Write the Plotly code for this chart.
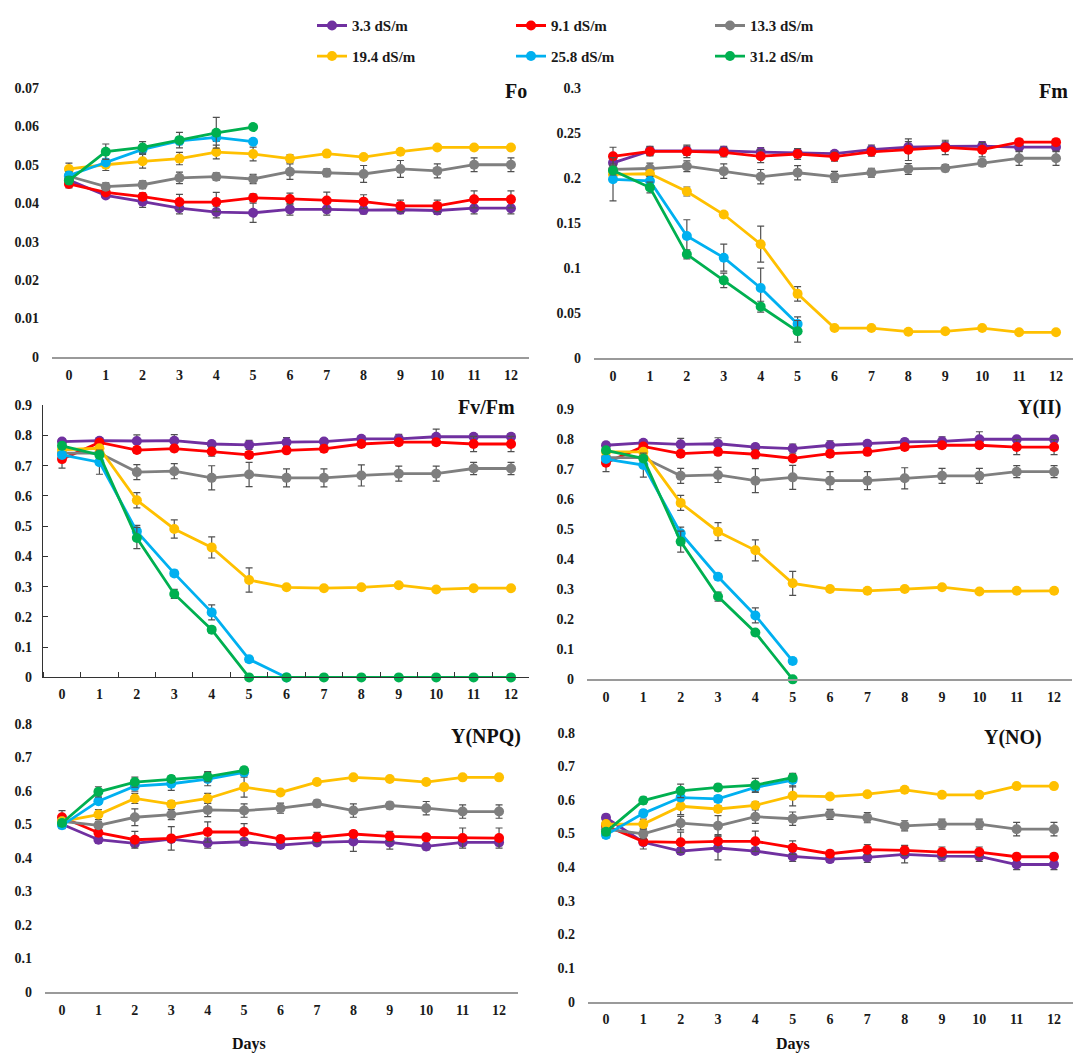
import plotly.graph_objects as go

# ---------------- data ----------------
days = list(range(13))
series_names = ["3.3 dS/m", "9.1 dS/m", "13.3 dS/m", "19.4 dS/m", "25.8 dS/m", "31.2 dS/m"]
series_colors = ["#7030A0", "#FF0000", "#7F7F7F", "#FFC000", "#00B0F0", "#00B050"]

# Fo
fo_33 = [0.0460, 0.0420, 0.0404, 0.0387, 0.0377, 0.0375, 0.0384, 0.0384, 0.0382, 0.0383, 0.0381, 0.0387, 0.0387]
fo_91 = [0.0450, 0.0428, 0.0417, 0.0403, 0.0403, 0.0414, 0.0411, 0.0407, 0.0404, 0.0393, 0.0393, 0.0410, 0.0410]
fo_133 = [0.0470, 0.0443, 0.0448, 0.0466, 0.0469, 0.0463, 0.0482, 0.0479, 0.0476, 0.0489, 0.0484, 0.0500, 0.0500]
fo_194 = [0.0489, 0.0500, 0.0509, 0.0516, 0.0533, 0.0528, 0.0516, 0.0529, 0.0520, 0.0534, 0.0545, 0.0545, 0.0545]
fo_258 = [0.0472, 0.0506, 0.0540, 0.0562, 0.0571, 0.0560]
fo_312 = [0.0459, 0.0534, 0.0545, 0.0564, 0.0583, 0.0598]
fo_33_sd = [0.0010, 0.0005, 0.0015, 0.0015, 0.0015, 0.0025, 0.0015, 0.0015, 0.0010, 0.0010, 0.0010, 0.0015, 0.0015]
fo_91_sd = [0.0010, 0.0005, 0.0010, 0.0020, 0.0025, 0.0010, 0.0015, 0.0022, 0.0018, 0.0015, 0.0015, 0.0022, 0.0022]
fo_133_sd = [0.0010, 0.0010, 0.0010, 0.0015, 0.0010, 0.0012, 0.0020, 0.0010, 0.0022, 0.0022, 0.0018, 0.0018, 0.0018]
fo_194_sd = [0.0015, 0.0015, 0.0018, 0.0016, 0.0018, 0.0018, 0.0010, 0.0005, 0.0005, 0.0005, 0.0005, 0.0005, 0.0005]
fo_258_sd = [0.0010, 0.0005, 0.0010, 0.0010, 0.0010, 0.0005]
fo_312_sd = [0.0010, 0.0020, 0.0015, 0.0020, 0.0040, 0.0005]

# Fm
fm_33 = [0.2167, 0.2300, 0.2300, 0.2300, 0.2287, 0.2276, 0.2269, 0.2313, 0.2342, 0.2349, 0.2353, 0.2342, 0.2342]
fm_91 = [0.2240, 0.2294, 0.2294, 0.2284, 0.2240, 0.2265, 0.2236, 0.2290, 0.2313, 0.2338, 0.2313, 0.2397, 0.2397]
fm_133 = [0.2094, 0.2104, 0.2130, 0.2075, 0.2013, 0.2057, 0.2013, 0.2057, 0.2100, 0.2108, 0.2167, 0.2218, 0.2218]
fm_194 = [0.2039, 0.2046, 0.1849, 0.1593, 0.1264, 0.0712, 0.0332, 0.0332, 0.0292, 0.0296, 0.0332, 0.0285, 0.0285]
fm_258 = [0.1984, 0.1966, 0.1355, 0.1114, 0.0778, 0.0376]
fm_312 = [0.2083, 0.1893, 0.1151, 0.0862, 0.0570, 0.0296]
fm_33_sd = [0.010, 0.005, 0.005, 0.005, 0.005, 0.005, 0.003, 0.005, 0.006, 0.005, 0.005, 0.005, 0.005]
fm_91_sd = [0.010, 0.005, 0.007, 0.005, 0.007, 0.006, 0.005, 0.005, 0.012, 0.008, 0.008, 0.003, 0.003]
fm_133_sd = [0.006, 0.006, 0.006, 0.008, 0.008, 0.008, 0.006, 0.005, 0.006, 0.004, 0.004, 0.008, 0.008]
fm_194_sd = [0.003, 0.003, 0.005, 0.003, 0.020, 0.008, 0.002, 0.002, 0.002, 0.002, 0.002, 0.002, 0.002]
fm_258_sd = [0.024, 0.005, 0.018, 0.015, 0.022, 0.008]
fm_312_sd = [0.005, 0.006, 0.005, 0.008, 0.006, 0.012]

# Fv/Fm
fvfm_33 = [0.780, 0.783, 0.782, 0.783, 0.772, 0.769, 0.778, 0.780, 0.789, 0.789, 0.796, 0.796, 0.796]
fvfm_91 = [0.722, 0.777, 0.752, 0.757, 0.747, 0.736, 0.751, 0.756, 0.772, 0.778, 0.778, 0.772, 0.772]
fvfm_133 = [0.742, 0.742, 0.679, 0.682, 0.660, 0.671, 0.660, 0.660, 0.668, 0.674, 0.674, 0.691, 0.691]
fvfm_194 = [0.753, 0.758, 0.586, 0.491, 0.430, 0.322, 0.298, 0.295, 0.298, 0.305, 0.291, 0.295, 0.295]
fvfm_258 = [0.736, 0.712, 0.483, 0.344, 0.215, 0.060, 0.000]
fvfm_312 = [0.766, 0.736, 0.461, 0.276, 0.158, 0.000, 0.000, 0.000, 0.000, 0.000, 0.000, 0.000, 0.000]
fvfm_33_sd = [0.010, 0.010, 0.020, 0.020, 0.010, 0.015, 0.015, 0.010, 0.010, 0.015, 0.025, 0.010, 0.010]
fvfm_91_sd = [0.030, 0.010, 0.010, 0.010, 0.015, 0.010, 0.010, 0.010, 0.010, 0.010, 0.010, 0.025, 0.025]
fvfm_133_sd = [0.010, 0.010, 0.025, 0.025, 0.040, 0.040, 0.030, 0.030, 0.035, 0.025, 0.025, 0.020, 0.020]
fvfm_194_sd = [0.010, 0.010, 0.025, 0.030, 0.035, 0.040, 0.005, 0.005, 0.005, 0.005, 0.005, 0.005, 0.005]
fvfm_258_sd = [0.010, 0.040, 0.020, 0.010, 0.025, 0.010, 0.000]
fvfm_312_sd = [0.010, 0.010, 0.035, 0.015, 0.010, 0.000, 0.000, 0.000, 0.000, 0.000, 0.000, 0.000, 0.000]

# Y(II)
y2_33 = [0.780, 0.788, 0.783, 0.785, 0.774, 0.769, 0.780, 0.785, 0.791, 0.793, 0.800, 0.800, 0.800]
y2_91 = [0.722, 0.776, 0.752, 0.758, 0.750, 0.736, 0.752, 0.758, 0.774, 0.780, 0.780, 0.774, 0.774]
y2_133 = [0.739, 0.739, 0.678, 0.681, 0.662, 0.673, 0.662, 0.662, 0.670, 0.678, 0.678, 0.692, 0.692]
y2_194 = [0.758, 0.758, 0.588, 0.492, 0.430, 0.320, 0.301, 0.295, 0.301, 0.307, 0.293, 0.295, 0.295]
y2_258 = [0.734, 0.714, 0.487, 0.342, 0.213, 0.061]
y2_312 = [0.763, 0.736, 0.459, 0.276, 0.156, 0.000]
y2_33_sd = [0.010, 0.010, 0.020, 0.020, 0.010, 0.015, 0.015, 0.010, 0.010, 0.015, 0.025, 0.010, 0.010]
y2_91_sd = [0.030, 0.010, 0.010, 0.010, 0.015, 0.010, 0.010, 0.010, 0.010, 0.010, 0.010, 0.025, 0.025]
y2_133_sd = [0.010, 0.010, 0.025, 0.025, 0.040, 0.040, 0.030, 0.030, 0.035, 0.025, 0.025, 0.020, 0.020]
y2_194_sd = [0.010, 0.010, 0.025, 0.030, 0.035, 0.040, 0.005, 0.005, 0.005, 0.005, 0.005, 0.005, 0.005]
y2_258_sd = [0.010, 0.040, 0.020, 0.010, 0.025, 0.010]
y2_312_sd = [0.010, 0.010, 0.035, 0.015, 0.010, 0.000]

# Y(NPQ)
npq_33 = [0.500, 0.454, 0.443, 0.456, 0.444, 0.448, 0.438, 0.446, 0.449, 0.446, 0.434, 0.446, 0.446]
npq_91 = [0.521, 0.475, 0.454, 0.458, 0.477, 0.477, 0.456, 0.461, 0.471, 0.464, 0.461, 0.459, 0.459]
npq_133 = [0.509, 0.497, 0.521, 0.529, 0.543, 0.541, 0.548, 0.562, 0.541, 0.556, 0.548, 0.538, 0.538]
npq_194 = [0.509, 0.529, 0.577, 0.560, 0.577, 0.611, 0.595, 0.626, 0.640, 0.635, 0.626, 0.640, 0.640]
npq_258 = [0.497, 0.569, 0.614, 0.621, 0.635, 0.655]
npq_312 = [0.504, 0.597, 0.626, 0.635, 0.642, 0.661]
npq_33_sd = [0.010, 0.010, 0.010, 0.010, 0.015, 0.010, 0.010, 0.010, 0.030, 0.020, 0.010, 0.010, 0.010]
npq_91_sd = [0.020, 0.010, 0.025, 0.035, 0.030, 0.025, 0.010, 0.015, 0.010, 0.015, 0.010, 0.030, 0.030]
npq_133_sd = [0.010, 0.010, 0.025, 0.015, 0.020, 0.020, 0.015, 0.010, 0.020, 0.010, 0.020, 0.020, 0.020]
npq_194_sd = [0.010, 0.015, 0.015, 0.010, 0.015, 0.030, 0.005, 0.005, 0.005, 0.005, 0.005, 0.005, 0.005]
npq_258_sd = [0.010, 0.010, 0.015, 0.020, 0.020, 0.010]
npq_312_sd = [0.010, 0.015, 0.015, 0.010, 0.015, 0.010]

# Y(NO)
no_33 = [0.547, 0.474, 0.448, 0.457, 0.448, 0.432, 0.424, 0.429, 0.438, 0.433, 0.432, 0.408, 0.408]
no_91 = [0.523, 0.476, 0.474, 0.477, 0.477, 0.458, 0.440, 0.452, 0.450, 0.445, 0.445, 0.431, 0.431]
no_133 = [0.513, 0.499, 0.531, 0.523, 0.550, 0.544, 0.557, 0.547, 0.523, 0.528, 0.528, 0.513, 0.513]
no_194 = [0.528, 0.528, 0.581, 0.573, 0.584, 0.612, 0.610, 0.617, 0.630, 0.615, 0.615, 0.641, 0.641]
no_258 = [0.496, 0.560, 0.607, 0.603, 0.637, 0.659]
no_312 = [0.505, 0.598, 0.627, 0.637, 0.644, 0.666]
no_33_sd = [0.010, 0.020, 0.010, 0.035, 0.010, 0.015, 0.010, 0.015, 0.025, 0.015, 0.015, 0.015, 0.015]
no_91_sd = [0.010, 0.010, 0.030, 0.020, 0.030, 0.020, 0.010, 0.015, 0.015, 0.015, 0.015, 0.010, 0.010]
no_133_sd = [0.010, 0.015, 0.020, 0.030, 0.020, 0.020, 0.015, 0.015, 0.015, 0.015, 0.015, 0.020, 0.020]
no_194_sd = [0.010, 0.015, 0.025, 0.010, 0.010, 0.030, 0.005, 0.005, 0.005, 0.005, 0.005, 0.005, 0.005]
no_258_sd = [0.010, 0.010, 0.010, 0.010, 0.015, 0.020]
no_312_sd = [0.010, 0.010, 0.020, 0.010, 0.020, 0.010]

# tick labels
fo_tickvals = [0, 0.01, 0.02, 0.03, 0.04, 0.05, 0.06, 0.07]
fo_ticktext = ["0", "0.01", "0.02", "0.03", "0.04", "0.05", "0.06", "0.07"]
fm_tickvals = [0, 0.05, 0.1, 0.15, 0.2, 0.25, 0.3]
fm_ticktext = ["0", "0.05", "0.1", "0.15", "0.2", "0.25", "0.3"]
yield_tickvals = [0, 0.1, 0.2, 0.3, 0.4, 0.5, 0.6, 0.7, 0.8, 0.9]
yield_ticktext = ["0", "0.1", "0.2", "0.3", "0.4", "0.5", "0.6", "0.7", "0.8", "0.9"]
q_tickvals = [0, 0.1, 0.2, 0.3, 0.4, 0.5, 0.6, 0.7, 0.8]
q_ticktext = ["0", "0.1", "0.2", "0.3", "0.4", "0.5", "0.6", "0.7", "0.8"]

# ---------------- layout geometry (pixels) ----------------
W, H = 1074, 1063
FONT = "Liberation Serif"
TXT = "#1a1a1a"


def px_x(a, b):
    return [a / W, b / W]


def px_y(top, bottom):
    return [1 - bottom / H, 1 - top / H]


panels = [
    dict(title="Fo", data=[fo_33, fo_91, fo_133, fo_194, fo_258, fo_312],
         sd=[fo_33_sd, fo_91_sd, fo_133_sd, fo_194_sd, fo_258_sd, fo_312_sd],
         xd=(52, 529), yd=(82, 355), xr=[-0.46, 12.49], yr=[0, 0.07],
         tv=fo_tickvals, tt=fo_ticktext, title_pos=(529, 85), framed=False, days=False),
    dict(title="Fm", data=[fm_33, fm_91, fm_133, fm_194, fm_258, fm_312],
         sd=[fm_33_sd, fm_91_sd, fm_133_sd, fm_194_sd, fm_258_sd, fm_312_sd],
         xd=(594, 1073), yd=(82, 356), xr=[-0.515, 12.46], yr=[0, 0.3],
         tv=fm_tickvals, tt=fm_ticktext, title_pos=(1070, 85), framed=False, days=False),
    dict(title="Fv/Fm", data=[fvfm_33, fvfm_91, fvfm_133, fvfm_194, fvfm_258, fvfm_312],
         sd=[fvfm_33_sd, fvfm_91_sd, fvfm_133_sd, fvfm_194_sd, fvfm_258_sd, fvfm_312_sd],
         xd=(43, 529), yd=(404, 680), xr=[-0.508, 12.48], yr=[0, 0.9],
         tv=yield_tickvals, tt=yield_ticktext, title_pos=(517, 406), framed=True, days=False),
    dict(title="Y(II)", data=[y2_33, y2_91, y2_133, y2_194, y2_258, y2_312],
         sd=[y2_33_sd, y2_91_sd, y2_133_sd, y2_194_sd, y2_258_sd, y2_312_sd],
         xd=(587, 1072), yd=(408, 682), xr=[-0.509, 12.48], yr=[0, 0.9],
         tv=yield_tickvals, tt=yield_ticktext, title_pos=(1063, 406), framed=False, days=False),
    dict(title="Y(NPQ)", data=[npq_33, npq_91, npq_133, npq_194, npq_258, npq_312],
         sd=[npq_33_sd, npq_91_sd, npq_133_sd, npq_194_sd, npq_258_sd, npq_312_sd],
         xd=(45, 518), yd=(727, 999), xr=[-0.467, 12.52], yr=[0, 0.8],
         tv=q_tickvals, tt=q_ticktext, title_pos=(523, 740), framed=False, days=(249, 1052)),
    dict(title="Y(NO)", data=[no_33, no_91, no_133, no_194, no_258, no_312],
         sd=[no_33_sd, no_91_sd, no_133_sd, no_194_sd, no_258_sd, no_312_sd],
         xd=(588, 1073), yd=(736, 1009), xr=[-0.482, 12.51], yr=[0, 0.8],
         tv=q_tickvals, tt=q_ticktext, title_pos=(1044, 741), framed=False, days=(793, 1052)),
]

fig = go.Figure()
annotations = []
layout_axes = {}

for i, p in enumerate(panels):
    n = i + 1
    xa = "x" if n == 1 else f"x{n}"
    ya = "y" if n == 1 else f"y{n}"
    xkey = "xaxis" if n == 1 else f"xaxis{n}"
    ykey = "yaxis" if n == 1 else f"yaxis{n}"

    for s, (vals, sds) in enumerate(zip(p["data"], p["sd"])):
        fig.add_trace(go.Scatter(
            x=days[:len(vals)], y=vals,
            mode="lines+markers",
            name=series_names[s],
            line=dict(color=series_colors[s], width=2.8),
            marker=dict(color=series_colors[s], size=10, symbol="circle"),
            error_y=dict(type="data", array=sds, visible=True, color="#505050",
                         thickness=1.2, width=3.5),
            xaxis=xa, yaxis=ya,
            cliponaxis=False,
            showlegend=(i == 0),
            legend="legend" if s < 3 else "legend2",
        ))

    framed = p["framed"]
    layout_axes[xkey] = dict(
        domain=px_x(*p["xd"]), range=p["xr"], anchor=ya,
        tickmode="array", tickvals=days, ticktext=[str(d) for d in days],
        showgrid=False, zeroline=False,
        showline=True, linecolor="#9a9a9a" if not framed else "#333333",
        linewidth=1.6 if not framed else 1.3,
        ticks="", ticklabelstandoff=4,
        tickfont=dict(family=FONT, size=14, color=TXT, weight="bold"),
        minor=dict(tickmode="linear", tick0=0.5, dtick=1, ticks="inside",
                   ticklen=5, tickcolor="#333333", tickwidth=1.2) if framed else None,
        fixedrange=True,
    )
    layout_axes[ykey] = dict(
        domain=px_y(*p["yd"]), range=p["yr"], anchor=xa,
        tickmode="array", tickvals=p["tv"], ticktext=p["tt"],
        showgrid=False, zeroline=False,
        showline=framed, linecolor="#333333", linewidth=1.3,
        ticks="inside" if framed else "", ticklen=5, tickcolor="#333333",
        ticklabelstandoff=7 if framed else 12,
        tickfont=dict(family=FONT, size=14, color=TXT, weight="bold"),
        fixedrange=True,
    )

    tx, ty = p["title_pos"]
    annotations.append(dict(
        text=p["title"], xref="paper", yref="paper", x=tx / W, y=1 - ty / H,
        xanchor="right", yanchor="middle", showarrow=False,
        font=dict(family=FONT, size=20, color="#111111", weight="bold"),
    ))
    if p["days"]:
        dx, dy = p["days"]
        annotations.append(dict(
            text="Days", xref="paper", yref="paper", x=dx / W, y=1 - dy / H,
            xanchor="center", yanchor="middle", showarrow=False,
            font=dict(family=FONT, size=16, color="#111111", weight="bold"),
        ))

legend_common = dict(
    orientation="h", xanchor="left", yanchor="middle",
    entrywidth=154, entrywidthmode="pixels",
    font=dict(family=FONT, size=15, color=TXT, weight="bold"),
    bgcolor="rgba(0,0,0,0)", itemclick=False, itemdoubleclick=False,
    tracegroupgap=0,
)

fig.update_layout(
    width=W, height=H,
    margin=dict(l=0, r=0, t=0, b=0),
    paper_bgcolor="white", plot_bgcolor="white",
    showlegend=True,
    legend=dict(x=312 / W, y=1 - 19 / H, **legend_common),
    legend2=dict(x=312 / W, y=1 - 50 / H, **legend_common),
    annotations=annotations,
    **layout_axes,
)

fig.write_html("out.html")
